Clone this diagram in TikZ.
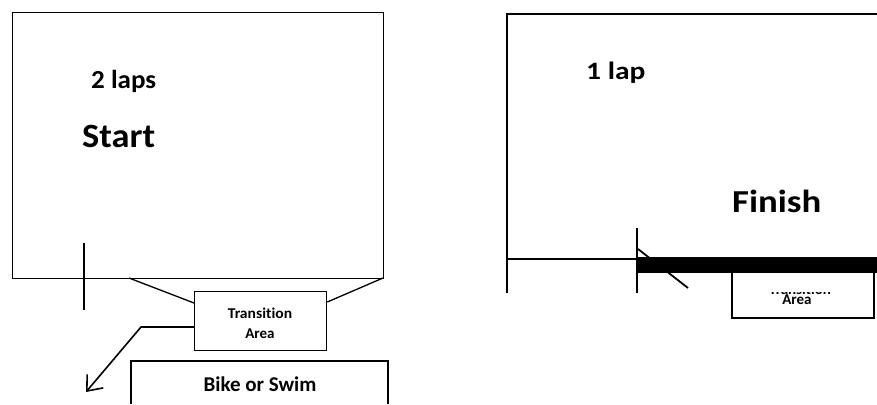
\documentclass[tikz,border=0pt]{standalone}
\usepackage{fontspec}
\usepackage{graphicx}
\setmainfont[Ligatures=NoCommon]{Carlito}
\usetikzlibrary{arrows.meta}
\begin{document}
\begin{tikzpicture}[x=1pt,y=-1pt,
  thin line/.style={line width=1.3pt},
  thick line/.style={line width=1.8pt},
  label/.style={inner sep=0pt, font=\bfseries},
]
\useasboundingbox (0,0) rectangle (877,404);
% ---------- left course ----------
\node[draw, thin line, minimum width=371pt, minimum height=266pt, inner sep=0pt, anchor=north west] (startbox) at (12,12) {};
\node[label, anchor=base west, font=\bfseries\fontsize{26}{26}\selectfont] (laps2) at (91,88) {\scalebox{1.04}[1]{2 laps}};
\node[label, anchor=base west, font=\bfseries\fontsize{34}{34}\selectfont] (start) at (82,147) {\scalebox{1.07}[1]{Start}};
\coordinate (tickTop) at (84,243);
\coordinate (tickBot) at (84,310);
\draw[thin line] (tickTop) -- (tickBot);
\node[draw, thin line, minimum width=132pt, minimum height=59pt, inner sep=0pt, anchor=north west] (trans) at (194,291) {};
\node[label, anchor=base, font=\bfseries\fontsize{15}{15}\selectfont] (transT) at (260,318) {\scalebox{1.04}[1]{Transition}};
\node[label, anchor=base, font=\bfseries\fontsize{15}{15}\selectfont] (transA) at (260,338) {Area};
\coordinate (funL) at (129,278);
\coordinate (funR) at (383,278);
\draw[thin line] (funL) -- (trans.north west |- 0,303);
\draw[thin line] (funR) -- (trans.north east |- 0,302);
\coordinate (bend) at (141,327);
\coordinate (tip) at (86,392);
\draw[line width=1.6pt, -{Straight Barb[length=13pt,width=21pt]}] (trans.west |- 0,327) -- (bend) -- (tip);
\coordinate (bsL) at (131,404);
\coordinate (bsTL) at (131,361);
\coordinate (bsTR) at (388,361);
\coordinate (bsR) at (388,404);
\draw[thin line] (bsL) -- (bsTL) -- (bsTR) -- (bsR);
\node[label, anchor=base, font=\bfseries\fontsize{21}{21}\selectfont] (bike) at (260,391) {Bike or Swim};
% ---------- right course ----------
\coordinate (fBL) at (507,293);
\coordinate (fTL) at (507,14);
\coordinate (fTR) at (877,14);
\draw[thick line] (fBL) -- (fTL) -- (fTR);
\node[label, anchor=base west, font=\bfseries\fontsize{25}{25}\selectfont] (lap1) at (586,79) {\scalebox{1.18}[1]{1 lap}};
\node[label, anchor=base west, font=\bfseries\fontsize{32}{32}\selectfont] (finish) at (732,212) {\scalebox{1.15}[1]{Finish}};
\coordinate (hL) at (507,259);
\coordinate (hR) at (637,259);
\draw[thick line] (hL) -- (hR);
\coordinate (t2Top) at (637,228);
\coordinate (t2Bot) at (637,293);
\draw[thick line] (t2Top) -- (t2Bot);
\coordinate (dA) at (638,249);
\coordinate (dB) at (688,288);
\draw[thick line] (dA) -- (dB);
\node[draw, thick line, minimum width=142pt, minimum height=50pt, inner sep=0pt, anchor=north west] (trans2) at (731,267) {};
\fill[black] (637,257) rectangle (877,273);
\begin{scope}
\clip (740,292) rectangle (865,300);
\node[label, anchor=base, font=\bfseries\fontsize{15}{15}\selectfont] (trans2T) at (800,294.5) {Transition};
\end{scope}
\node[label, anchor=base, font=\bfseries\fontsize{15}{15}\selectfont] (trans2A) at (797,304) {Area};
\end{tikzpicture}
\end{document}
